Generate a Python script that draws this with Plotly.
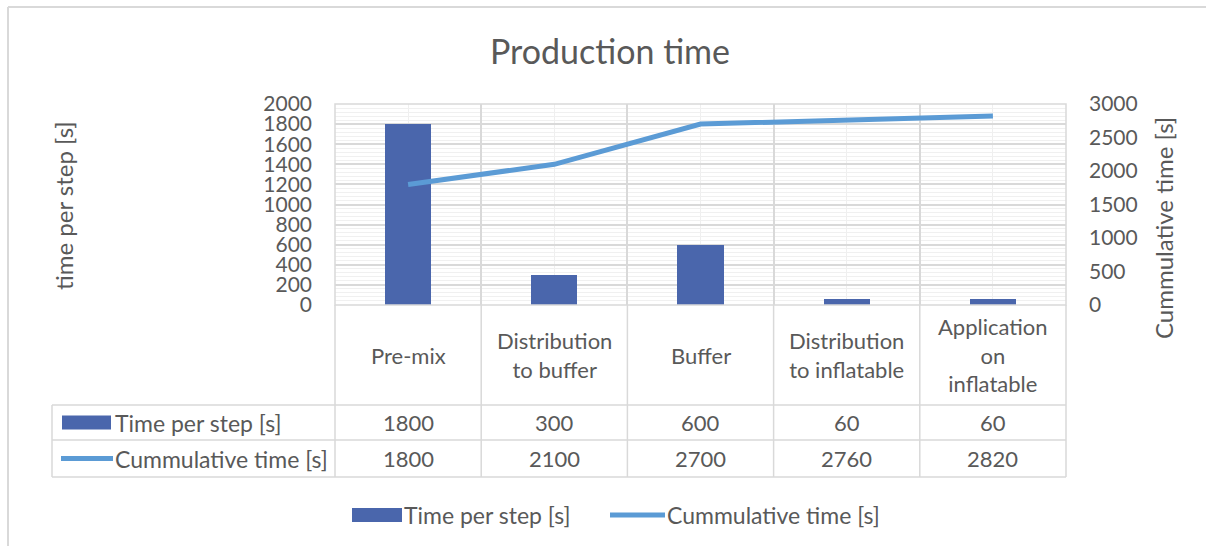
import plotly.graph_objects as go

# Process steps and timings
steps = ["Pre-mix", "Distribution<br>to buffer", "Buffer", "Distribution<br>to inflatable", "Application<br>on<br>inflatable"]
time_per_step = [1800, 300, 600, 60, 60]
cumulative_time = [1800, 2100, 2700, 2760, 2820]
series_names = ["Time per step [s]", "Cummulative time [s]"]

W, H = 1206, 546
BAR_COLOR = "#4A66AC"
LINE_COLOR = "#5B9BD5"
GRID = "#D9D9D9"
TEXT = "#595959"
FONT = "Lato"
FS = 22

# plot area in pixels
PX0, PX1, PY0, PY1 = 335, 1066, 104, 305


def fx(px):
    return px / W


def fy(py):
    return 1 - py / H


x_idx = list(range(len(steps)))

fig = go.Figure()
fig.add_trace(go.Bar(
    x=x_idx, y=time_per_step, width=0.315, name=series_names[0],
    marker=dict(color=BAR_COLOR, line=dict(width=0)), showlegend=False,
))
fig.add_trace(go.Scatter(
    x=x_idx, y=cumulative_time, yaxis="y2", mode="lines", name=series_names[1],
    line=dict(color=LINE_COLOR, width=5), showlegend=False,
))

fig.update_layout(
    template="none",
    width=W, height=H,
    margin=dict(l=0, r=0, t=0, b=0, pad=0),
    paper_bgcolor="white", plot_bgcolor="white",
    font=dict(family=FONT, color=TEXT, size=FS),
    xaxis=dict(
        domain=[fx(PX0), fx(PX1)], range=[-0.5, len(steps) - 0.5], automargin=False,
        tickmode="array", tickvals=[i - 0.5 for i in range(len(steps) + 1)],
        showticklabels=False, ticks="", showgrid=True, gridcolor=GRID, gridwidth=1.5,
        zeroline=False, showline=False,
        minor=dict(tickmode="array", tickvals=x_idx, showgrid=True, gridcolor="#EFEFEF", gridwidth=1),
    ),
    yaxis=dict(
        domain=[fy(PY1), fy(PY0)], range=[0, 2000], dtick=200, automargin=False,
        showgrid=True, gridcolor=GRID, gridwidth=1.5, zeroline=False, showline=False,
        ticks="", ticklabelstandoff=22, tickfont=dict(size=21, color=TEXT),
        minor=dict(dtick=40, showgrid=True, gridcolor="#F0F0F0", gridwidth=1),
    ),
    yaxis2=dict(
        overlaying="y", side="right", anchor="x", range=[0, 3000], dtick=500, automargin=False,
        showgrid=False, zeroline=False, showline=False,
        ticks="", ticklabelstandoff=22, tickfont=dict(size=21, color=TEXT),
    ),
    bargap=0,
)

shapes = []
annotations = []
line_style = dict(color=GRID, width=1.5)

# plot area frame
shapes.append(dict(type="rect", xref="paper", yref="paper",
                   x0=fx(PX0), x1=fx(PX1), y0=fy(PY1), y1=fy(PY0), line=line_style))
# outer chart border (left and top)
shapes.append(dict(type="line", xref="paper", yref="paper",
                   x0=fx(8), x1=fx(8), y0=fy(7), y1=fy(560), line=dict(color="#D9D9D9", width=2)))
shapes.append(dict(type="line", xref="paper", yref="paper",
                   x0=fx(8), x1=fx(1210), y0=fy(7), y1=fy(7), line=dict(color="#D9D9D9", width=2)))

# data table grid
ROW_TOP, ROW1, ROW2, ROW_BOT = 305, 405, 440, 477
TABLE_LEFT = 52
col_w = (PX1 - PX0) / len(steps)
for i in range(len(steps) + 1):
    xb = PX0 + i * col_w
    shapes.append(dict(type="line", xref="paper", yref="paper",
                       x0=fx(xb), x1=fx(xb), y0=fy(ROW_TOP), y1=fy(ROW_BOT), line=line_style))
shapes.append(dict(type="line", xref="paper", yref="paper",
                   x0=fx(TABLE_LEFT), x1=fx(TABLE_LEFT), y0=fy(ROW1), y1=fy(ROW_BOT), line=line_style))
for yb in (ROW1, ROW2, ROW_BOT):
    shapes.append(dict(type="line", xref="paper", yref="paper",
                       x0=fx(TABLE_LEFT), x1=fx(PX1), y0=fy(yb), y1=fy(yb), line=line_style))

# category header row and value rows
for i, name in enumerate(steps):
    annotations.append(dict(x=i, xref="x", y=fy((ROW_TOP + ROW1) / 2), yref="paper",
                            text=name, showarrow=False, font=dict(size=FS, color=TEXT),
                            xanchor="center", yanchor="middle"))
    annotations.append(dict(x=i, xref="x", y=fy((ROW1 + ROW2) / 2), yref="paper",
                            text=str(time_per_step[i]), showarrow=False, font=dict(size=FS, color=TEXT),
                            xanchor="center", yanchor="middle"))
    annotations.append(dict(x=i, xref="x", y=fy((ROW2 + ROW_BOT) / 2), yref="paper",
                            text=str(cumulative_time[i]), showarrow=False, font=dict(size=FS, color=TEXT),
                            xanchor="center", yanchor="middle"))


def legend_key(kind, x0, x1, yc, label_x, size):
    if kind == "bar":
        shapes.append(dict(type="rect", xref="paper", yref="paper",
                           x0=fx(x0), x1=fx(x1), y0=fy(yc + 7), y1=fy(yc - 7),
                           fillcolor=BAR_COLOR, line=dict(width=0)))
        label = series_names[0]
    else:
        shapes.append(dict(type="line", xref="paper", yref="paper",
                           x0=fx(x0), x1=fx(x1), y0=fy(yc), y1=fy(yc),
                           line=dict(color=LINE_COLOR, width=5)))
        label = series_names[1]
    annotations.append(dict(x=fx(label_x), xref="paper", y=fy(yc), yref="paper",
                            text=label, showarrow=False, font=dict(size=size, color=TEXT),
                            xanchor="left", yanchor="middle"))


# table row keys
legend_key("bar", 62, 111, (ROW1 + ROW2) / 2, 113, 23)
legend_key("line", 61, 113, (ROW2 + ROW_BOT) / 2, 113, 23)
# bottom legend
legend_key("bar", 352, 402, 515, 402, 23)
legend_key("line", 610, 665, 515, 665, 23)

# title and axis titles
annotations.append(dict(x=fx(610), y=fy(50), xref="paper", yref="paper", text="Production time",
                        showarrow=False, font=dict(size=34, color=TEXT),
                        xanchor="center", yanchor="middle"))
annotations.append(dict(x=fx(63), y=fy(206), xref="paper", yref="paper", text="time per step [s]",
                        showarrow=False, font=dict(size=24, color=TEXT), textangle=-90,
                        xanchor="center", yanchor="middle"))
annotations.append(dict(x=fx(1163), y=fy(228), xref="paper", yref="paper", text="Cummulative time [s]",
                        showarrow=False, font=dict(size=24, color=TEXT), textangle=-90,
                        xanchor="center", yanchor="middle"))

fig.update_layout(shapes=shapes, annotations=annotations)
fig.write_html("out.html")
